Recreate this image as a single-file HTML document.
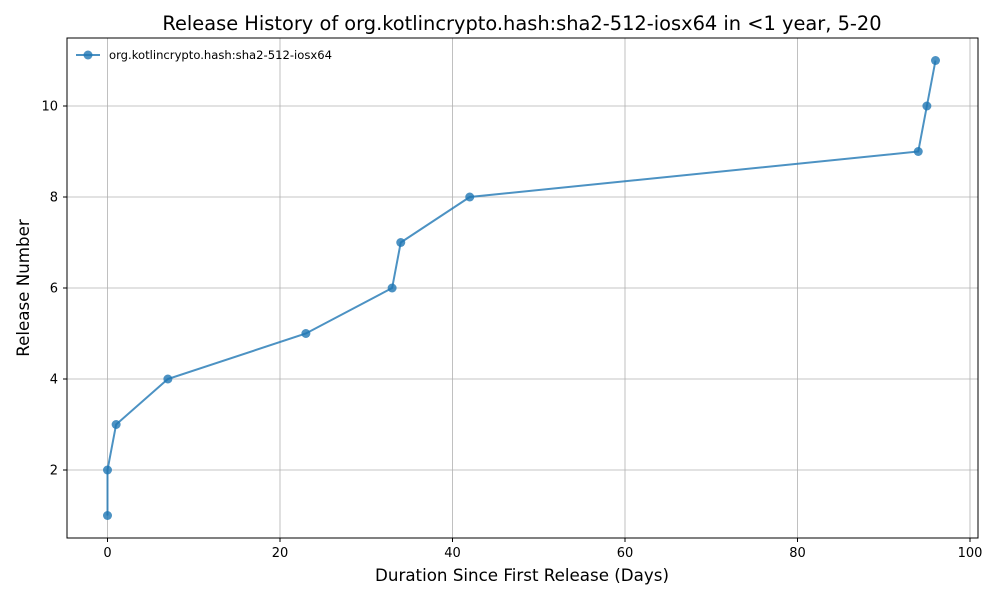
<!DOCTYPE html>
<html><head><meta charset="utf-8"><style>
body{margin:0;background:#fff;font-family:"DejaVu Sans","Liberation Sans",sans-serif}
</style></head><body>
<svg width="1000" height="600" xmlns="http://www.w3.org/2000/svg">
<rect width="1000" height="600" fill="#fff"/>
<text x="522" y="30" text-anchor="middle" font-size="19.4">Release History of org.kotlincrypto.hash:sha2-512-iosx64 in &lt;1 year, 5-20</text>
<g id="grid"></g>
<g id="axes"></g>
<rect x="67" y="38" width="911" height="500" fill="none" stroke="#000" stroke-width="1"/>
<g id="series"></g>
<text x="522" y="581" text-anchor="middle" font-size="16.7">Duration Since First Release (Days)</text>
<text transform="translate(29,288) rotate(-90)" text-anchor="middle" font-size="16.7">Release Number</text>
<g>
<line x1="76" y1="55" x2="100" y2="55" stroke="#1f77b4" stroke-opacity="0.8" stroke-width="2"/>
<circle cx="88" cy="55" r="4.5" fill="#1f77b4" fill-opacity="0.8"/>
<text x="109" y="59" font-size="11.6">org.kotlincrypto.hash:sha2-512-iosx64</text>
</g>
</svg>
<script>
const days=[0,0,1,7,23,33,34,42,94,95,96];
const releases=[1,2,3,4,5,6,7,8,9,10,11];
const xTicks=[0,20,40,60,80,100];
const yTicks=[2,4,6,8,10];
const NS="http://www.w3.org/2000/svg";
function sx(v){return 107.5+v*8.625;}
function sy(v){return 515.5-(v-1)*45.5;}
function mk(t,a,p){const e=document.createElementNS(NS,t);for(const k in a)e.setAttribute(k,a[k]);p.appendChild(e);return e;}
const grid=document.getElementById('grid'),axes=document.getElementById('axes'),ser=document.getElementById('series');
xTicks.forEach(t=>{const x=sx(t);
const g=mk('line',{x1:x,x2:x,y1:38,y2:538,stroke:'#b0b0b0','stroke-width':0.8},grid);


mk('line',{x1:x,x2:x,y1:538,y2:542,stroke:'#000'},axes);
const l=mk('text',{x:x,y:557,'text-anchor':'middle','font-size':13},axes);l.textContent=t;

});
yTicks.forEach(t=>{const y=sy(t);
const g=mk('line',{x1:67,x2:978,y1:y,y2:y,stroke:'#b0b0b0','stroke-width':0.8},grid);


mk('line',{x1:63,x2:67,y1:y,y2:y,stroke:'#000'},axes);
const l=mk('text',{x:58,y:y+4.5,'text-anchor':'end','font-size':13},axes);l.textContent=t;

});
const pl=mk('polyline',{points:days.map((d,i)=>sx(d)+','+sy(releases[i])).join(' '),fill:'none',stroke:'#1f77b4','stroke-opacity':0.8,'stroke-width':2},ser);


days.forEach((d,i)=>{const c=mk('circle',{cx:sx(d),cy:sy(releases[i]),r:4.5,fill:'#1f77b4','fill-opacity':0.8},ser);

});
</script>
</body></html>
